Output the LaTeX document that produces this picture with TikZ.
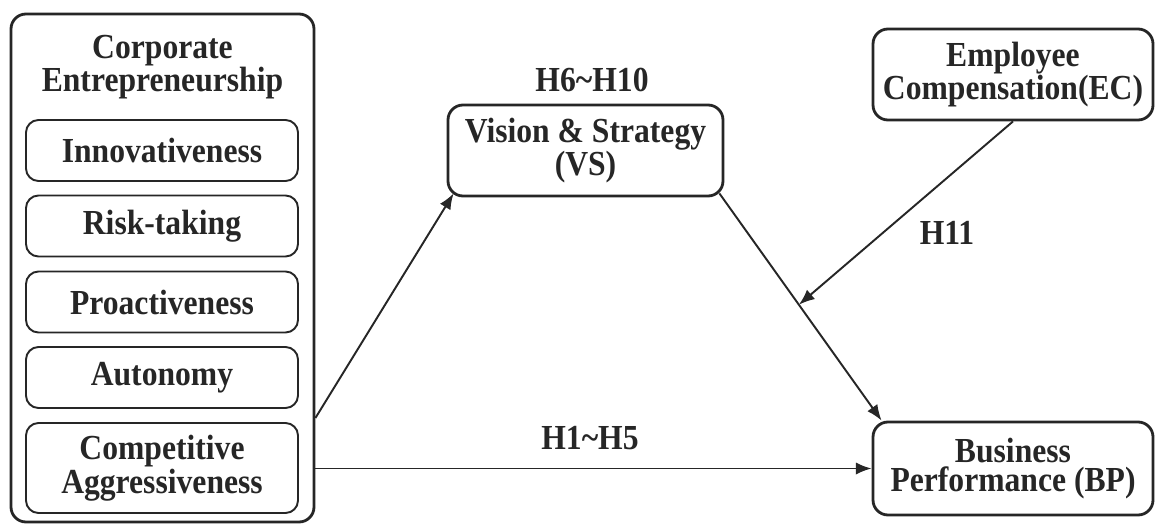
\documentclass[tikz,border=0pt]{standalone}
\usepackage{fontspec}
\setmainfont{Liberation Serif}[FakeStretch=0.9]
\usetikzlibrary{arrows.meta,calc}

\begin{document}
\begin{tikzpicture}[
  every node/.style={font=\bfseries\fontsize{20}{17}\selectfont, text=black!85, align=center},
  bigbox/.style={draw=black!85, line width=1.6pt, rounded corners=0.3cm, minimum width=5.6cm, minimum height=1.82cm},
  itembox/.style={draw=black!85, line width=1.1pt, rounded corners=0.25cm, minimum width=5.44cm, minimum height=1.22cm},
  link/.style={draw=black!85, line width=1.1pt, -{Latex[length=9pt,width=7pt]}}
]
  \useasboundingbox (0,0) rectangle (23.1,10.5);

  % left block
  \node[bigbox, minimum width=6.06cm, minimum height=10.16cm] (ce) at (3.25,5.14) {};
  \node (cetitle) at (3.25,9.16) {Corporate\\Entrepreneurship};
  \node[itembox] (inno) at (3.24,7.49) {Innovativeness};
  \node[itembox] (risk) at (3.24,5.98) {Risk-taking};
  \node[itembox] (proa) at (3.24,4.46) {Proactiveness};
  \node[itembox] (auto) at (3.24,2.95) {Autonomy};
  \node[itembox, minimum height=1.8cm] (comp) at (3.24,1.14) {Competitive\\Aggressiveness};

  % other constructs
  \node[bigbox, minimum width=5.5cm] (vs) at (11.71,7.49) {Vision \& Strategy\\(VS)};
  \node[bigbox] (ec) at (20.26,9.01) {Employee\\Compensation(EC)};
  \node[bigbox, minimum height=1.86cm] (bp) at (20.26,1.13) {Business\\Performance (BP)};

  % paths
  \draw[link] ([yshift=-3cm]ce.east) -- ($(vs.south west)+(0.14,0.08)$);
  \draw[link] (ce.east |- bp.west) -- (bp.west);
  \draw[link] ($(vs.south east)+(-0.1,0.08)$) -- coordinate[pos=0.49] (mod) ($(bp.north west)+(0.2,0)$);
  \draw[link] (ec.south) -- (mod);

  \node (h6) at (11.84,8.9) {H6\textasciitilde H10};
  \node (h11) at (18.94,5.84) {H11};
  \node (h1) at (11.8,1.74) {H1\textasciitilde H5};
\end{tikzpicture}
\end{document}
